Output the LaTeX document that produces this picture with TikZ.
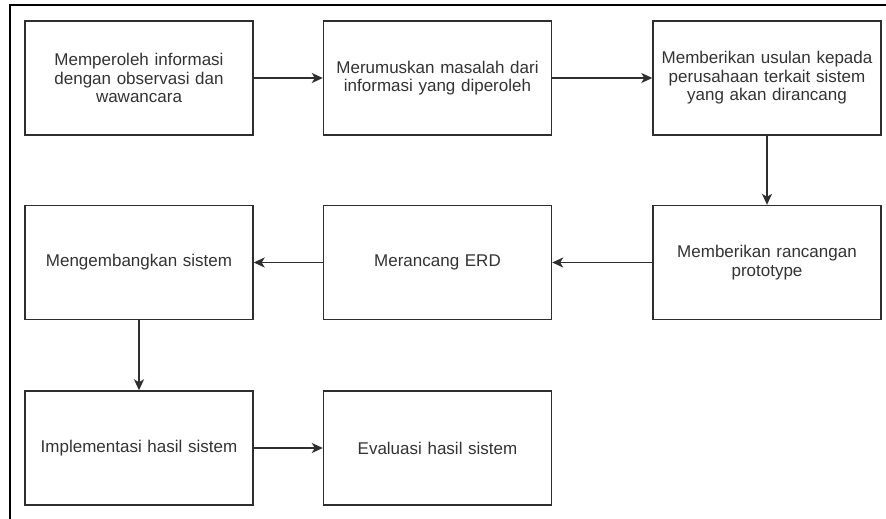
\documentclass[tikz,border=0pt]{standalone}
\usepackage{fontspec}
\setmainfont{Liberation Sans}
\usetikzlibrary{arrows.meta}
\definecolor{txt}{HTML}{333333}
\definecolor{ln}{HTML}{2E2E2E}
\begin{document}
\begin{tikzpicture}[x=1pt,y=-1pt,
  stepbox/.style={draw=ln,line width=1.4pt,minimum width=228pt,minimum height=114pt,
    text width=218pt,align=center,inner sep=0pt,text=txt,
    font=\fontsize{17pt}{18.4pt}\selectfont},
  conn/.style={draw=ln,line width=1.4pt,-{Stealth[length=11pt,width=10pt,inset=3pt]}}]
\useasboundingbox (0,0) rectangle (886,519);
\fill[white] (0,0) rectangle (886,519);
\draw[line width=2pt,black] (10,519) -- (10,5) -- (886,5);
\node[stepbox] (a) at (139,78) {Memperoleh informasi\\dengan observasi dan\\wawancara};
\node[stepbox] (b) at (437.5,78) {Merumuskan masalah dari\\informasi yang diperoleh};
\node[stepbox] (c) at (767,78) {Memberikan usulan kepada\\perusahaan terkait sistem\\yang akan dirancang};
\node[stepbox] (d) at (767,262.5) {Memberikan rancangan\\prototype};
\node[stepbox] (e) at (437.5,262.5) {Merancang ERD};
\node[stepbox] (f) at (139,262.5) {Mengembangkan sistem};
\node[stepbox] (g) at (139,448) {Implementasi hasil sistem};
\node[stepbox] (h) at (437.5,448) {Evaluasi hasil sistem};
\draw[conn] (a) -- (b);
\draw[conn] (b) -- (c);
\draw[conn] (c) -- (d);
\draw[conn] (d) -- (e);
\draw[conn] (e) -- (f);
\draw[conn] (f) -- (g);
\draw[conn] (g) -- (h);
\end{tikzpicture}
\end{document}
